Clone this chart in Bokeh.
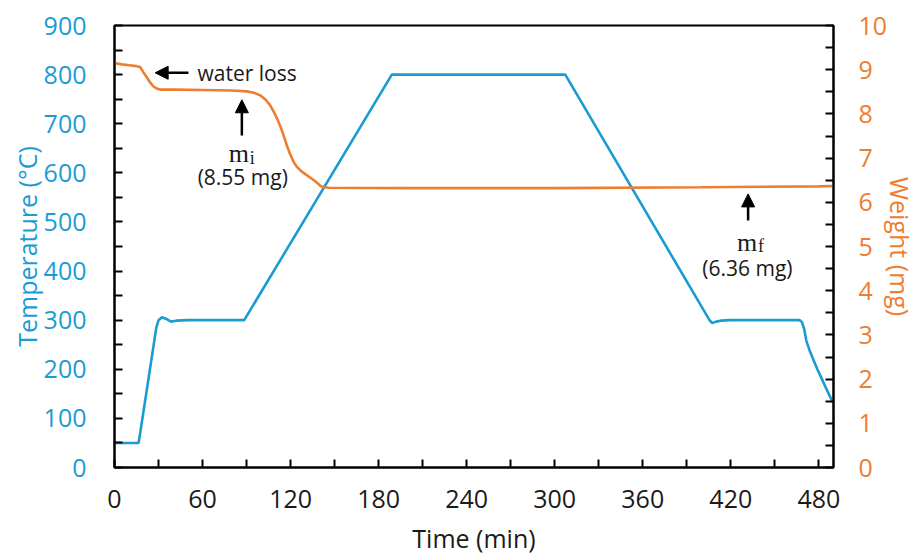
from bokeh.plotting import figure
from bokeh.models import (Range1d, LinearAxis, FixedTicker, Arrow, NormalHead, Label)
from bokeh.embed import file_html
from bokeh.resources import INLINE

# ---------------- data ----------------
temp_time = [0, 16.4, 17.5, 28.5, 30, 32.3, 35, 38.5, 42, 50, 88.4, 189, 307.2,
             405.5, 407.4, 410, 413, 420, 467, 468.5, 470, 471.5, 474, 476.5, 479,
             481.5, 485, 489, 490]
temp_c = [50, 50, 70, 285, 300, 306, 303, 297, 299, 300, 300, 800, 800,
          300, 294, 297, 299, 300, 300, 296, 282, 258, 236, 218, 200,
          184, 161, 136, 131]

weight_time = [0, 5, 10, 15, 17.5, 19.5, 22, 24.5, 26.6, 29, 31.2, 40, 60, 80, 90,
               95, 99.3, 103, 106, 108.5, 110.7, 113, 115.2, 117.5, 119.8, 122,
               124.3, 127, 131.2, 135, 138, 140.5, 142.5, 146, 200, 300, 400, 480, 490]
weight_mg = [9.15, 9.12, 9.10, 9.08, 9.06, 8.95, 8.83, 8.70, 8.62, 8.57, 8.55, 8.55,
             8.54, 8.53, 8.51, 8.48, 8.42, 8.32, 8.20, 8.05, 7.90, 7.72, 7.52, 7.28,
             7.08, 6.92, 6.80, 6.71, 6.61, 6.52, 6.44, 6.37, 6.34, 6.33, 6.32, 6.32,
             6.34, 6.36, 6.37]

x_ticks = [0, 60, 120, 180, 240, 300, 360, 420, 480]
x_minor = [30, 90, 150, 210, 270, 330, 390, 450]
t_ticks = [0, 100, 200, 300, 400, 500, 600, 700, 800, 900]
t_minor = [50, 150, 250, 350, 450, 550, 650, 750, 850]
w_ticks = [0, 1, 2, 3, 4, 5, 6, 7, 8, 9, 10]
w_minor = [0.5, 1.5, 2.5, 3.5, 4.5, 5.5, 6.5, 7.5, 8.5, 9.5]

# annotation anchors (data units)
water_arrow = (50.4, 27.7, 8.93)
mi_arrow = (86.8, 7.51, 8.32)
mf_arrow = (431.8, 5.59, 6.19)

BLUE = "#1A9CD3"
ORANGE = "#ED7D31"
FONT = "Open Sans"
SERIF = "Liberation Serif"

p = figure(width=922, height=558, output_backend="svg", toolbar_location=None,
           x_range=Range1d(0, 490), y_range=Range1d(0, 900),
           min_border_left=114, min_border_right=89, min_border_top=25,
           min_border_bottom=91)
p.extra_y_ranges = {"w": Range1d(0, 10)}

p.xgrid.visible = False
p.ygrid.visible = False
p.outline_line_color = "black"
p.outline_line_width = 2
p.background_fill_color = "white"
p.border_fill_color = "white"

p.line(temp_time, temp_c, line_color=BLUE, line_width=2.6)
p.line(weight_time, weight_mg, line_color=ORANGE, line_width=2.6, y_range_name="w")

def style_axis(ax, color, tick_color="black"):
    ax.axis_line_color = "black"
    ax.axis_line_width = 2
    ax.major_tick_in = 8
    ax.major_tick_out = 0
    ax.minor_tick_in = 8
    ax.minor_tick_out = 0
    ax.major_tick_line_color = tick_color
    ax.minor_tick_line_color = tick_color
    ax.major_tick_line_width = 2
    ax.minor_tick_line_width = 2
    ax.major_label_text_font = FONT
    ax.major_label_text_font_size = "25px"
    ax.major_label_text_color = color
    ax.axis_label_text_font = FONT
    ax.axis_label_text_font_size = "25px"
    ax.axis_label_text_font_style = "normal"
    ax.axis_label_text_color = color

xa = p.xaxis[0]
xa.ticker = FixedTicker(ticks=x_ticks, minor_ticks=x_minor)
xa.axis_label = "Time (min)"
style_axis(xa, "#1a1a1a")
xa.major_label_standoff = 22
xa.axis_label_standoff = 10

ya = p.yaxis[0]
ya.ticker = FixedTicker(ticks=t_ticks, minor_ticks=t_minor)
ya.axis_label = "Temperature (°C)"
style_axis(ya, BLUE)
ya.major_label_standoff = 28
ya.axis_label_standoff = -3

ra = LinearAxis(y_range_name="w", axis_label="Weight (mg)")
ra.ticker = FixedTicker(ticks=w_ticks, minor_ticks=w_minor)
style_axis(ra, ORANGE)
ra.major_label_standoff = 25
ra.axis_label_standoff = -7
p.add_layout(ra, "right")

# annotations
def arrow(x0, y0, x1, y1):
    p.add_layout(Arrow(end=NormalHead(size=13, fill_color="black", line_color="black"),
                       x_start=x0, y_start=y0, x_end=x1, y_end=y1,
                       line_width=2.5, line_color="black", y_range_name="w"))

arrow(water_arrow[0], water_arrow[2], water_arrow[1], water_arrow[2])
arrow(mi_arrow[0], mi_arrow[1], mi_arrow[0], mi_arrow[2])
arrow(mf_arrow[0], mf_arrow[1], mf_arrow[0], mf_arrow[2])

def label(x, y, text, align="center", size="21px", font=FONT, xo=0, yo=0):
    p.add_layout(Label(x=x, y=y, text=text, y_range_name="w", text_align=align,
                       text_baseline="middle", text_font=font, text_font_size=size,
                       text_color="#1a1a1a", x_offset=xo, y_offset=yo))

label(56.6, water_arrow[2], "water loss", align="left")
label(mi_arrow[0], 7.10, "m", align="right", size="26px", font=SERIF, xo=7)
label(mi_arrow[0], 7.10, "i", align="left", size="18px", font=SERIF, xo=8, yo=-4)
label(87.4, 6.57, "(8.55 mg)")
label(mf_arrow[0], 5.10, "m", align="right", size="26px", font=SERIF, xo=9)
label(mf_arrow[0], 5.10, "f", align="left", size="18px", font=SERIF, xo=10, yo=-4)
label(431.3, 4.52, "(6.36 mg)")

open("out.html", "w").write(file_html(p, INLINE))
